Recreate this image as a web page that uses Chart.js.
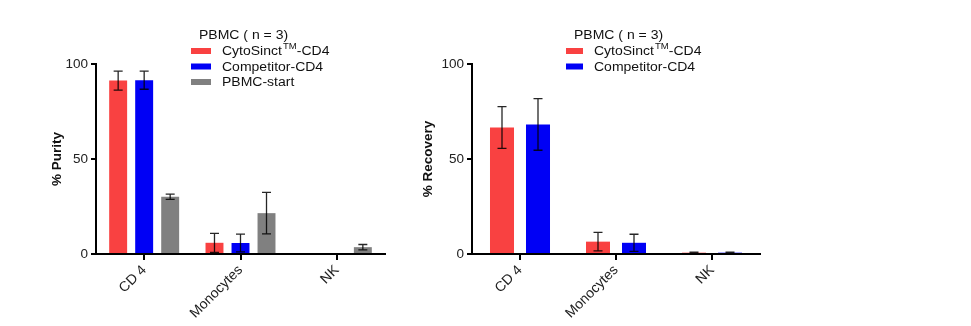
<!DOCTYPE html>
<html>
<head>
<meta charset="utf-8">
<script src="https://cdn.jsdelivr.net/npm/chart.js@4.4.0/dist/chart.umd.min.js"></script>
<style>
  html, body { margin: 0; padding: 0; background: #fff; }
  #wrap { position: relative; width: 971px; height: 326px; }
  #wrap canvas { position: absolute; left: 0; top: 0; }
</style>
</head>
<body>
<div id="wrap">
  <canvas id="purity" width="971" height="326"></canvas>
  <canvas id="recovery" width="971" height="326"></canvas>
</div>
<script>
// categories and series
const cellTypes = ['CD 4', 'Monocytes', 'NK'];
const legendTitle = 'PBMC ( n = 3)';
const seriesNames = ['CytoSinct{TM}-CD4', 'Competitor-CD4', 'PBMC-start'];
const seriesColors = ['#f94141', '#0000f5', '#808080'];

// % purity (mean and error)
const purityCyto = [91.3, 5.9, 0];
const purityCytoErr = [5.0, 5.0, 0];
const purityComp = [91.5, 5.8, 0];
const purityCompErr = [4.8, 4.7, 0];
const purityStart = [30.1, 21.5, 3.6];
const purityStartErr = [1.4, 10.9, 1.4];

// % recovery (mean and error)
const recoveryCyto = [66.6, 6.5, 0.7];
const recoveryCytoErr = [11.0, 4.9, 0.3];
const recoveryComp = [68.2, 5.9, 0.7];
const recoveryCompErr = [13.6, 4.5, 0.3];

const yTicks = [0, 50, 100];

// draws mean +/- error whiskers on each bar
const errorBars = {
    id: 'errorBars',
    afterDatasetsDraw(chart) {
        const ctx = chart.ctx;
        const yScale = chart.scales.y;
        ctx.save();
        ctx.strokeStyle = 'rgba(0,0,0,0.85)';
        ctx.lineWidth = 1.3;
        chart.data.datasets.forEach((ds, i) => {
            const meta = chart.getDatasetMeta(i);
            meta.data.forEach((bar, j) => {
                const v = ds.data[j];
                const e = ds.errors[j];
                if (!e) return;
                const top = yScale.getPixelForValue(v + e);
                const bot = yScale.getPixelForValue(Math.max(0, v - e));
                ctx.beginPath();
                ctx.moveTo(bar.x, top);
                ctx.lineTo(bar.x, bot);
                ctx.moveTo(bar.x - 4.5, top);
                ctx.lineTo(bar.x + 4.5, top);
                ctx.moveTo(bar.x - 4.5, bot);
                ctx.lineTo(bar.x + 4.5, bot);
                ctx.stroke();
            });
        });
        ctx.restore();
    }
};

// legend with the superscript TM, drawn by hand
const pbmcLegend = {
    id: 'pbmcLegend',
    afterDraw(chart, args, opts) {
        const ctx = chart.ctx;
        const sx = 1.12;
        ctx.save();
        ctx.textBaseline = 'middle';
        ctx.fillStyle = '#111';
        ctx.font = '12.5px "Liberation Sans", Arial, sans-serif';
        ctx.save();
        ctx.translate(opts.x + 8, 36);
        ctx.scale(sx, 1);
        ctx.fillText(legendTitle, 0, 0);
        ctx.restore();
        chart.data.datasets.forEach((ds, i) => {
            const cy = 51 + i * 15.5;
            ctx.fillStyle = ds.backgroundColor;
            ctx.fillRect(opts.x, cy - 3, opts.box, 6);
            ctx.fillStyle = '#111';
            ctx.save();
            ctx.translate(opts.x + opts.box + 11, cy + 1);
            ctx.scale(sx, 1);
            let x = 0;
            ds.label.split(/[{}]/).forEach((part, k) => {
                if (k % 2 === 1) {
                    ctx.font = '8.5px "Liberation Sans", Arial, sans-serif';
                    ctx.fillText(part, x + 1, -5);
                    x += ctx.measureText(part).width + 1;
                } else {
                    ctx.font = '12.5px "Liberation Sans", Arial, sans-serif';
                    ctx.fillText(part, x, 0);
                    x += ctx.measureText(part).width;
                }
            });
            ctx.restore();
        });
        ctx.restore();
    }
};

function makeDatasets(values, errors) {
    return values.map((vals, i) => ({
        label: seriesNames[i],
        data: vals,
        errors: errors[i],
        backgroundColor: seriesColors[i],
        borderWidth: 0
    }));
}

function makeOptions(title, padLeft, yWidth, padRight, legendX, legendBox, catPct, barPct) {
    return {
        responsive: false,
        animation: false,
        layout: { padding: { left: padLeft, right: padRight, top: 64, bottom: 0 } },
        datasets: { bar: { categoryPercentage: catPct, barPercentage: barPct } },
        plugins: {
            legend: { display: false },
            tooltip: { enabled: false },
            pbmcLegend: { x: legendX, box: legendBox }
        },
        scales: {
            x: {
                afterFit: s => { s.height = 72; },
                border: { color: '#000', width: 2 },
                grid: { offset: false, drawOnChartArea: false, color: '#000', lineWidth: 2, tickLength: 6 },
                ticks: {
                    minRotation: 45, maxRotation: 45, padding: 2,
                    color: '#222',
                    font: { family: '"Liberation Sans", Arial, sans-serif', size: 14 }
                }
            },
            y: {
                min: 0, max: 100,
                afterFit: s => { s.width = yWidth; },
                afterBuildTicks: s => { s.ticks = yTicks.map(v => ({ value: v })); },
                border: { color: '#000', width: 2 },
                grid: { drawOnChartArea: false, color: '#000', lineWidth: 2, tickLength: 5 },
                ticks: {
                    padding: 3, color: '#222',
                    font: { family: '"Liberation Sans", Arial, sans-serif', size: 13.5 }
                },
                title: {
                    display: true, text: title, color: '#111',
                    font: { family: '"Liberation Sans", Arial, sans-serif', size: 13.5, weight: 'bold' }
                }
            }
        }
    };
}

new Chart(document.getElementById('purity'), {
    type: 'bar',
    data: {
        labels: cellTypes,
        datasets: makeDatasets(
            [purityCyto, purityComp, purityStart],
            [purityCytoErr, purityCompErr, purityStartErr])
    },
    options: makeOptions('% Purity', 45, 51, 586, 191, 20, 0.81, 0.69),
    plugins: [errorBars, pbmcLegend]
});

new Chart(document.getElementById('recovery'), {
    type: 'bar',
    data: {
        labels: cellTypes,
        datasets: makeDatasets(
            [recoveryCyto, recoveryComp],
            [recoveryCytoErr, recoveryCompErr])
    },
    options: makeOptions('% Recovery', 416.5, 55.5, 211, 566, 17, 0.75, 0.667),
    plugins: [errorBars, pbmcLegend]
});
</script>
</body>
</html>
